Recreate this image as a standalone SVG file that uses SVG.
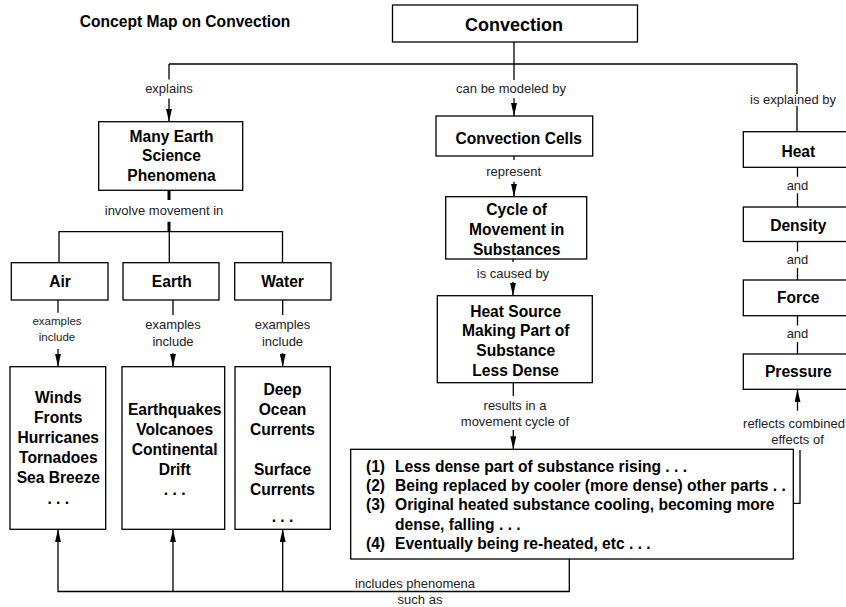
<svg xmlns="http://www.w3.org/2000/svg" width="846" height="607" viewBox="0 0 846 607">
<defs>
<marker id="arr" viewBox="0 0 13 6" refX="13" refY="3" markerWidth="13" markerHeight="6" markerUnits="userSpaceOnUse" orient="auto">
<path d="M0,0 L13,3 L0,6 z" fill="#000"/>
</marker>
</defs>
<style>
.box{fill:#fff;stroke:#000;stroke-width:1.3}
.ln{fill:none;stroke:#000;stroke-width:1.3}
.thick{fill:none;stroke:#000;stroke-width:3}
.ar{marker-end:url(#arr)}
.t{font-family:"Liberation Sans",Arial,sans-serif;font-weight:bold;font-size:15.6px;fill:#000;text-anchor:middle}
.big{font-size:18px}
.lbl{font-family:"Liberation Sans",Arial,sans-serif;font-size:13px;fill:#222;text-anchor:middle}
.sm{font-size:11.5px}
.st{text-anchor:start}
</style>
<rect width="846" height="607" fill="#fff"/>
<text class="t" x="185" y="27">Concept Map on Convection</text>

<g id="connectors">
<path class="ln" d="M514,42 V64 M169,64 H797"/>
<path class="ln" d="M169,64 V79.5"/>
<path class="ln ar" d="M169,98.5 V121.7"/>
<path class="ln" d="M514,64 V80"/>
<path class="ln ar" d="M514,98.3 V116"/>
<path class="ln" d="M797,64 V94"/>
<path class="ln" d="M797,106 V131.7"/>
<path class="thick" d="M169,190.3 V200 M169,221.7 V231.7"/>
<path class="ln" d="M59,262.7 V231.7 H282.5 V262.7 M169.3,231.7 V262.7"/>
<path class="ln" d="M58,300 V312.7"/>
<path class="ln ar" d="M58,349 V366.7"/>
<path class="ln" d="M173,300 V315"/>
<path class="ln ar" d="M173,353.3 V366.7"/>
<path class="ln" d="M282.7,300 V315"/>
<path class="ln ar" d="M282.7,353.3 V366.7"/>
<path class="ln" d="M514,156 V160"/>
<path class="ln ar" d="M514,181.7 V196.7"/>
<path class="ln" d="M513,259 V262"/>
<path class="ln ar" d="M513,282 V295.7"/>
<path class="ln" d="M513.3,382.7 V396"/>
<path class="ln ar" d="M513.3,430 V449.3"/>
<path class="ln" d="M797.5,167.3 V176.7 M797.5,193.3 V207"/>
<path class="ln" d="M797.5,241.5 V251.5 M797.5,268 V280"/>
<path class="ln" d="M797.5,315.7 V325.5 M797.5,342 V354"/>
<path class="ln ar" d="M797.5,410.7 V389.3"/>
<path class="ln" d="M792.7,503.3 H800 V450"/>
<path class="ln ar" d="M569.3,559 V591.5 H58 V529.3"/>
<path class="ln ar" d="M173,591.5 V529.3"/>
<path class="ln ar" d="M282.7,591.5 V529.3"/>
<text class="lbl" x="169" y="92.6">explains</text>
<text class="lbl" x="511" y="92.7">can be modeled by</text>
<text class="lbl" x="793" y="104">is explained by</text>
<text class="lbl" x="164" y="215">involve movement in</text>
<text class="lbl sm" x="57" y="324.9">examples</text>
<text class="lbl sm" x="57" y="340.9">include</text>
<text class="lbl" x="173" y="329.3">examples</text>
<text class="lbl" x="173" y="345.5">include</text>
<text class="lbl" x="282.5" y="329.3">examples</text>
<text class="lbl" x="282.5" y="345.5">include</text>
<text class="lbl" x="513.7" y="175.5">represent</text>
<text class="lbl" x="513" y="278.3">is caused by</text>
<text class="lbl" x="515" y="409.5">results in a</text>
<text class="lbl" x="515" y="426">movement cycle of</text>
<text class="lbl" x="797.5" y="190">and</text>
<text class="lbl" x="797.5" y="264">and</text>
<text class="lbl" x="797.5" y="337.7">and</text>
<text class="lbl" x="794" y="427.5">reflects combined</text>
<text class="lbl" x="797.5" y="443.5">effects of</text>
<text class="lbl" x="415" y="587.5">includes phenomena</text>
<text class="lbl" x="420" y="604">such as</text>
</g>

<g id="n-convection">
<rect class="box" x="392.5" y="5" width="245" height="37"/>
<text class="t big" x="514" y="30.5">Convection</text>
</g>

<g id="n-many-earth">
<rect class="box" x="98.7" y="121.7" width="144" height="68.6"/>
<text class="t" x="171.5" y="141.5">Many Earth</text>
<text class="t" x="171.5" y="161.3">Science</text>
<text class="t" x="171.5" y="181">Phenomena</text>
</g>

<g id="n-air">
<rect class="box" x="11.3" y="262.7" width="96.7" height="37.3"/>
<text class="t" x="60" y="286.7">Air</text>
</g>
<g id="n-earth">
<rect class="box" x="123" y="262.7" width="96" height="37.3"/>
<text class="t" x="171.8" y="286.7">Earth</text>
</g>
<g id="n-water">
<rect class="box" x="234.7" y="262.7" width="96.3" height="37.3"/>
<text class="t" x="282.5" y="286.7">Water</text>
</g>

<g id="n-air-examples">
<rect class="box" x="10" y="366.7" width="95.7" height="162.6"/>
<text class="t" x="58.3" y="403.3">Winds</text>
<text class="t" x="58.3" y="423.3">Fronts</text>
<text class="t" x="58.3" y="443.3">Hurricanes</text>
<text class="t" x="58.3" y="463.3">Tornadoes</text>
<text class="t" x="58.3" y="483.3">Sea Breeze</text>
<text class="t" x="58.3" y="504">. . .</text>
</g>
<g id="n-earth-examples">
<rect class="box" x="122" y="366.7" width="102.7" height="162.6"/>
<text class="t" x="174.7" y="415">Earthquakes</text>
<text class="t" x="174.7" y="435">Volcanoes</text>
<text class="t" x="174.7" y="455">Continental</text>
<text class="t" x="174.7" y="475">Drift</text>
<text class="t" x="174.7" y="494.5">. . .</text>
</g>
<g id="n-water-examples">
<rect class="box" x="235" y="366.7" width="95.3" height="162.6"/>
<text class="t" x="282.5" y="395">Deep</text>
<text class="t" x="282.5" y="415">Ocean</text>
<text class="t" x="282.5" y="435">Currents</text>
<text class="t" x="282.5" y="475">Surface</text>
<text class="t" x="282.5" y="495">Currents</text>
<text class="t" x="282.5" y="522">. . .</text>
</g>

<g id="n-convection-cells">
<rect class="box" x="436" y="116" width="156.7" height="40"/>
<text class="t" x="518.7" y="143.5">Convection Cells</text>
</g>
<g id="n-cycle">
<rect class="box" x="445.7" y="196.7" width="141" height="62.3"/>
<text class="t" x="516.7" y="215">Cycle of</text>
<text class="t" x="516.7" y="235">Movement in</text>
<text class="t" x="516.7" y="255">Substances</text>
</g>
<g id="n-heat-source">
<rect class="box" x="437.3" y="295.7" width="155" height="87"/>
<text class="t" x="515.7" y="316.5">Heat Source</text>
<text class="t" x="515.7" y="336.2">Making Part of</text>
<text class="t" x="515.7" y="356">Substance</text>
<text class="t" x="515.7" y="375.5">Less Dense</text>
</g>

<g id="n-heat">
<rect class="box" x="743.3" y="131.7" width="110" height="35.6"/>
<text class="t" x="798.3" y="156.7">Heat</text>
</g>
<g id="n-density">
<rect class="box" x="743.3" y="207" width="110" height="34.5"/>
<text class="t" x="798.3" y="230.5">Density</text>
</g>
<g id="n-force">
<rect class="box" x="743.3" y="280" width="110" height="35.7"/>
<text class="t" x="798.3" y="303.3">Force</text>
</g>
<g id="n-pressure">
<rect class="box" x="743.3" y="354" width="110" height="35.3"/>
<text class="t" x="798.3" y="377.3">Pressure</text>
</g>

<g id="n-cycle-steps">
<rect class="box" x="350.7" y="449.3" width="442.6" height="109.7"/>
<text class="t st" y="472.3"><tspan x="366">(1)</tspan><tspan x="395">Less dense part of substance rising . . .</tspan></text>
<text class="t st" y="491"><tspan x="366">(2)</tspan><tspan x="395">Being replaced by cooler (more dense) other parts . .</tspan></text>
<text class="t st" y="509.8"><tspan x="366">(3)</tspan><tspan x="395">Original heated substance cooling, becoming more</tspan></text>
<text class="t st" y="529.5"><tspan x="395">dense, falling . . .</tspan></text>
<text class="t st" y="549"><tspan x="366">(4)</tspan><tspan x="395">Eventually being re-heated, etc . . .</tspan></text>
</g>
</svg>
